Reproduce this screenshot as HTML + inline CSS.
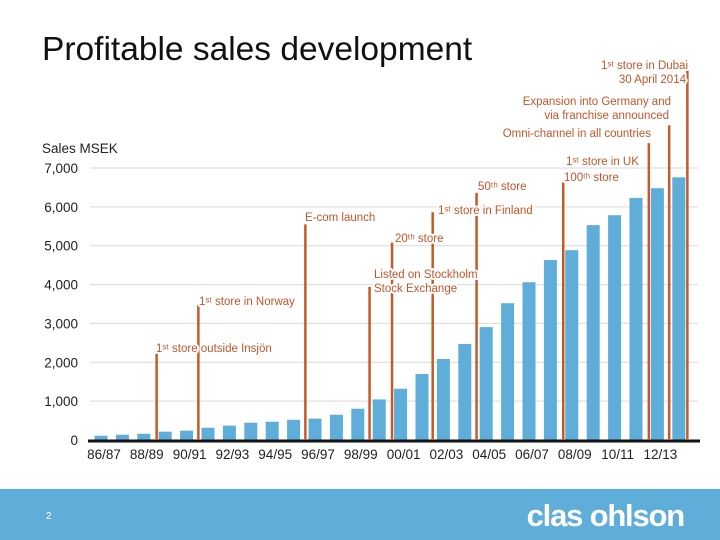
<!DOCTYPE html>
<html><head><meta charset="utf-8"><style>
html,body{margin:0;padding:0;background:#fff;}
body{width:720px;height:540px;overflow:hidden;position:relative;font-family:"Liberation Sans",sans-serif;}
</style></head><body>
<svg id="chart" width="720" height="540" xmlns="http://www.w3.org/2000/svg" style="position:absolute;left:0;top:0">
<text x="42" y="60" font-size="33.5" fill="#111" font-family="Liberation Sans, sans-serif">Profitable sales development</text>
<text x="42" y="153" font-size="13.5" fill="#222">Sales MSEK</text>
<g id="grid"></g><g id="bars"></g><g id="events"></g><g id="xlabels"></g>
<rect x="0" y="489" width="720" height="51" fill="#5fadd9"/>
<text x="46" y="519" font-size="10" fill="#fff">2</text>
<text x="684" y="526" text-anchor="end" font-size="31" font-weight="bold" fill="#fff" letter-spacing="-1.2">clas ohlson</text>
</svg>
<script>
const categories=["86/87","87/88","88/89","89/90","90/91","91/92","92/93","93/94","94/95","95/96","96/97","97/98","98/99","99/00","00/01","01/02","02/03","03/04","04/05","05/06","06/07","07/08","08/09","09/10","10/11","11/12","12/13","13/14"];
const sales=[110,135,160,215,240,315,370,445,470,520,550,650,805,1045,1320,1700,2085,2470,2905,3520,4060,4630,4885,5530,5785,6230,6480,6760];
const yTicks=[0,1000,2000,3000,4000,5000,6000,7000];
const yTickLabels=["0","1,000","2,000","3,000","4,000","5,000","6,000","7,000"];
const eventPos=[2.6,4.55,9.55,12.55,13.6,15.5,17.55,21.6,25.6,26.55,27.4];
const eventTop=[2300,3480,5550,3940,5080,5860,6360,6630,7640,8100,9700];
const eventLabels=[["1ˢᵗ store outside Insjön"],["1ˢᵗ store in Norway"],["E-com launch"],["Listed on Stockholm","Stock Exchange"],["20ᵗʰ store"],["1ˢᵗ store in Finland"],["50ᵗʰ store"],["1ˢᵗ store in UK","100ᵗʰ store"],["Omni-channel in all countries"],["Expansion into Germany and","via franchise announced"],["1ˢᵗ store in Dubai","30 April 2014"]];
const NS="http://www.w3.org/2000/svg";
const x0=101,step=21.4,y0=440,k=272/7000;
const xs=i=>x0+i*step, ys=v=>y0-v*k;
function mk(tag,attrs,parent){const e=document.createElementNS(NS,tag);for(const a in attrs)e.setAttribute(a,attrs[a]);parent.appendChild(e);return e;}
const grid=document.getElementById('grid');
yTicks.forEach((v,i)=>{
 if(v>0){const l=mk('line',{x1:90,x2:698,y1:ys(v),y2:ys(v),stroke:'#d9d9d9','stroke-width':1},grid);
 
 }
 const t=mk('text',{x:78,y:ys(v)+5,'text-anchor':'end','font-size':13.5,fill:'#222'},grid);
 t.textContent=yTickLabels[i];
 
 
});
const bars=document.getElementById('bars');
sales.forEach((v,i)=>{
 const r=mk('rect',{x:xs(i)-6.5,y:ys(v),width:13,height:v*k,fill:'#5fadd9'},bars);
 
 
});
const ax=mk('line',{x1:88,x2:700,y1:y0+1,y2:y0+1,stroke:'#111','stroke-width':3},bars);


const ev=document.getElementById('events');
const labelInfo=[[156,352,'start'],[199,305,'start'],[305,221,'start'],[374,278,'start'],[395,242,'start'],[438,214,'start'],[478,190,'start'],[566,165,'start'],[651,137,'end'],[671,105,'end'],[688,69,'end']];
eventPos.forEach((p,i)=>{
 const x=xs(p);
 const l=mk('line',{x1:x,x2:x,y1:ys(eventTop[i]),y2:y0,stroke:'#c55a28','stroke-width':2.5},ev);
 
 
});
eventPos.forEach((p,i)=>{
 const [lx,ly,anc]=labelInfo[i];
 eventLabels[i].forEach((s,j)=>{
  const t=mk('text',{x:lx-(j&&anc==='end'?2:0)-(i==7&&j?2:0),y:ly+j*14+(i==7&&j?2:0),'text-anchor':anc,'font-size':11.5,fill:'#c0562a',stroke:'#fff','stroke-width':4,'paint-order':'stroke','stroke-linejoin':'round'},ev);
  t.textContent=s;
  
  
 });
});
const xl=document.getElementById('xlabels');
categories.forEach((c,i)=>{
 if(i%2)return;
 const t=mk('text',{x:xs(i)+3,y:459,'text-anchor':'middle','font-size':13.5,fill:'#222'},xl);
 t.textContent=c;
 
 
});
</script>
</body></html>
